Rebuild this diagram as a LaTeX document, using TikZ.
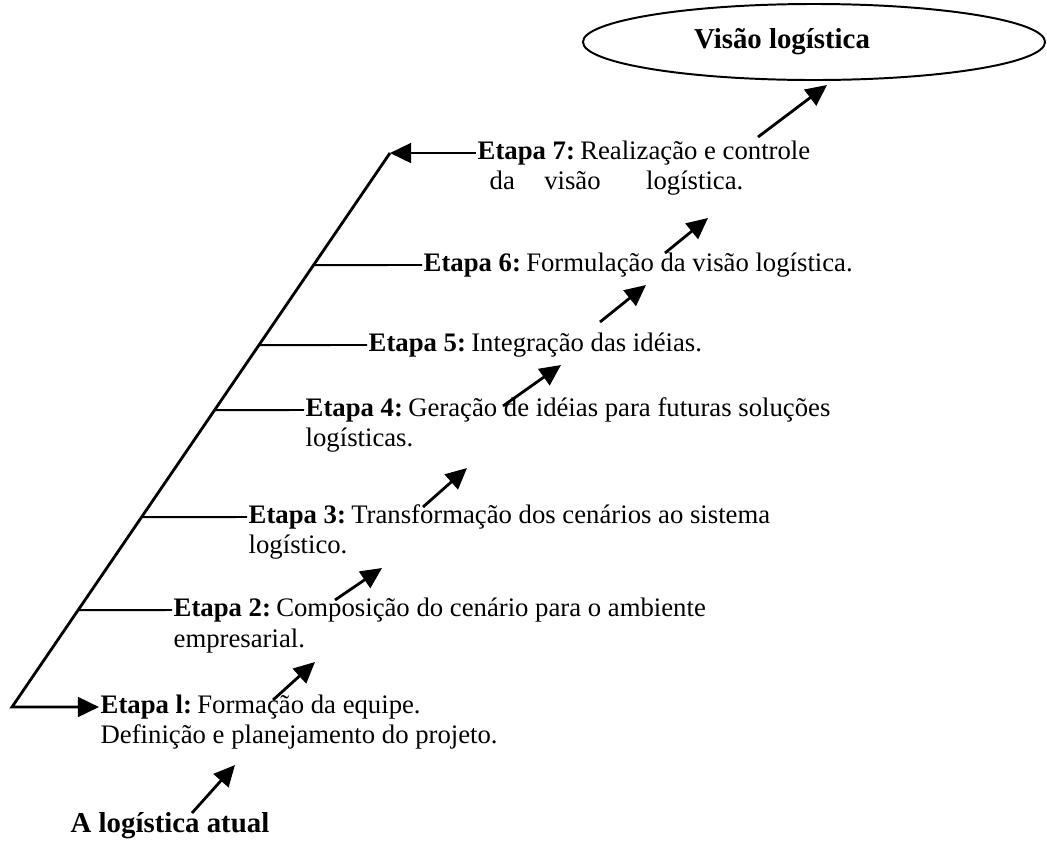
\documentclass[tikz,border=0pt]{standalone}
\usepackage{fontspec}
\setmainfont{Liberation Serif}
\usetikzlibrary{arrows.meta,shapes.geometric}
\newcommand{\etapanum}[1]{\textbf{Etapa #1:}\hspace{0.2em}}
\begin{document}
\begin{tikzpicture}[x=0.025cm,y=-0.025cm,
                    etapa/.style={anchor=west,inner sep=1pt,font=\fontsize{19}{22}\selectfont},
                    titulo/.style={inner sep=1pt,font=\fontsize{20.5}{24}\selectfont\bfseries},
                    seta/.style={line width=2pt,-{Triangle[length=15pt,width=14pt]}},
                    ramo/.style={line width=1.4pt}]
  \useasboundingbox (0,0) rectangle (1047,844);
  \coordinate (base) at (12,707);
  \coordinate (topo) at (390,153);
  % etapas
  \node[etapa] (e1) at (99,707) {\etapanum{l}Formação da equipe.};
  \node[etapa] (e1b) at (99,737) {Definição e planejamento do projeto.};
  \node[etapa] (e2) at (172,610) {\etapanum{2}Composição do cenário para o ambiente};
  \node[etapa] (e2b) at (172,641) {empresarial.};
  \node[etapa] (e3) at (247,517) {\etapanum{3}Transformação dos cenários ao sistema};
  \node[etapa] (e3b) at (247,547) {logístico.};
  \node[etapa] (e4) at (304,410) {\etapanum{4}Geração de idéias para futuras soluções};
  \node[etapa] (e4b) at (304,440) {logísticas.};
  \node[etapa] (e5) at (367,345) {\etapanum{5}Integração das idéias.};
  \node[etapa] (e6) at (422,265) {\etapanum{6}Formulação da visão logística.};
  \node[etapa] (e7) at (476,153) {\etapanum{7}Realização e controle};
  \node[etapa] (e7b) at (488,183) {da\hspace{1.1em}visão\hspace{1.7em}logística.};
  \node[titulo] (atual) at (170,826) {A logística atual};
  \node[draw,ellipse,line width=1.4pt,minimum width=11.55cm,minimum height=1.9cm] (visao) at (814,42) {};
  \node[titulo] (visaotxt) at (782,42) {Visão logística};
  % espinha
  \draw[seta,line join=miter] (topo) -- (base) -- (e1.west);
  \draw[seta] (e7.west) -- (topo);
  \foreach \n in {2,...,6}
    \draw[ramo] (intersection of base--topo and e\n.west--e\n.east) -- (e\n.west);
  % setas pequenas
  \foreach \n/\xa/\ya/\xb/\yb in {0/192/813/235/765, 1/273/700/315/662, 2/335/600/382/568,
                                  3/423/507/467/468, 4/503/406/561/365, 5/600/322/646/285,
                                  6/665/253/708/218, 7/758/137/827/85}{
    \coordinate (t\n) at (\xa,\ya);
    \coordinate (h\n) at (\xb,\yb);
    \draw[seta] (t\n) -- (h\n);
  }
\end{tikzpicture}
\end{document}
